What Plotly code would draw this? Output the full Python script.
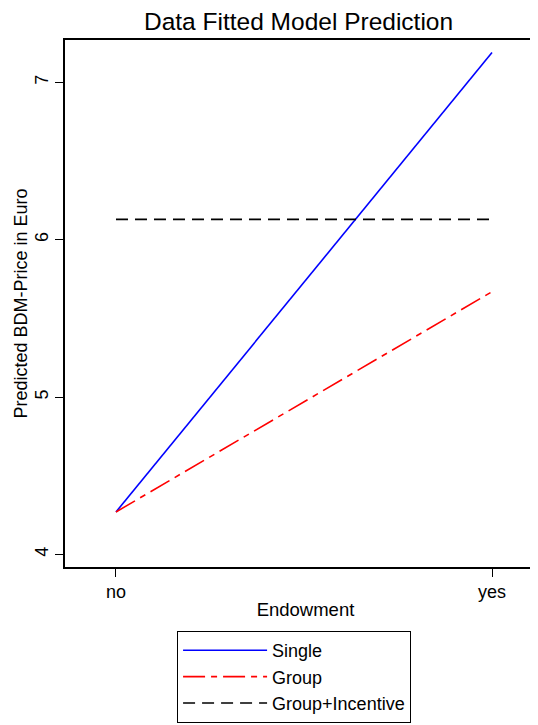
import plotly.graph_objects as go

categories = ["no", "yes"]
single = [4.27, 7.19]
group = [4.27, 5.67]
group_incentive = [6.13, 6.13]
y_ticks = [4, 5, 6, 7]

FONT = "Arial, Liberation Sans, sans-serif"

fig = go.Figure()
fig.add_trace(go.Scatter(x=[0, 1], y=single, mode="lines", name="Single",
                         line=dict(color="#0000ff", width=1.6)))
fig.add_trace(go.Scatter(x=[0, 1], y=group, mode="lines", name="Group",
                         line=dict(color="#ff0000", width=1.6, dash="22px,6px,6px,6px")))
fig.add_trace(go.Scatter(x=[0, 1], y=group_incentive, mode="lines", name="Group+Incentive",
                         line=dict(color="#000000", width=1.6, dash="12px,7px")))

fig.update_layout(
    width=538, height=725,
    margin=dict(l=57, r=0, t=32, b=166, autoexpand=False),
    paper_bgcolor="white", plot_bgcolor="white",
    font=dict(family=FONT, size=18, color="black"),
    title=dict(text="Data Fitted Model Prediction", x=0.54, xanchor="center",
               y=0.994, yanchor="top", font=dict(size=24.5, family=FONT, color="black")),
    xaxis=dict(range=[-0.1356, 1.1436], tickvals=[0, 1], ticktext=categories, automargin=False,
               showgrid=False, zeroline=False, showline=True, linecolor="black", linewidth=1.5,
               mirror=True, ticks="outside", ticklen=8, tickcolor="black",
               tickfont=dict(size=18), title=dict(text="Endowment", font=dict(size=18.5), standoff=2)),
    yaxis=dict(range=[3.92, 7.27], tickvals=y_ticks, tickangle=-90, automargin=False,
               showgrid=False, zeroline=False, showline=True, linecolor="black", linewidth=1.5,
               mirror=True, ticks="outside", ticklen=8, tickcolor="black",
               tickfont=dict(size=18), title=dict(text="Predicted BDM-Price in Euro", font=dict(size=18), standoff=0)),
    legend=dict(x=0.233, y=-0.1214, xanchor="left", yanchor="top",
                bordercolor="black", borderwidth=1, bgcolor="white",
                font=dict(size=18), tracegroupgap=0, itemwidth=84),
    showlegend=True,
)

fig.write_html("out.html")
